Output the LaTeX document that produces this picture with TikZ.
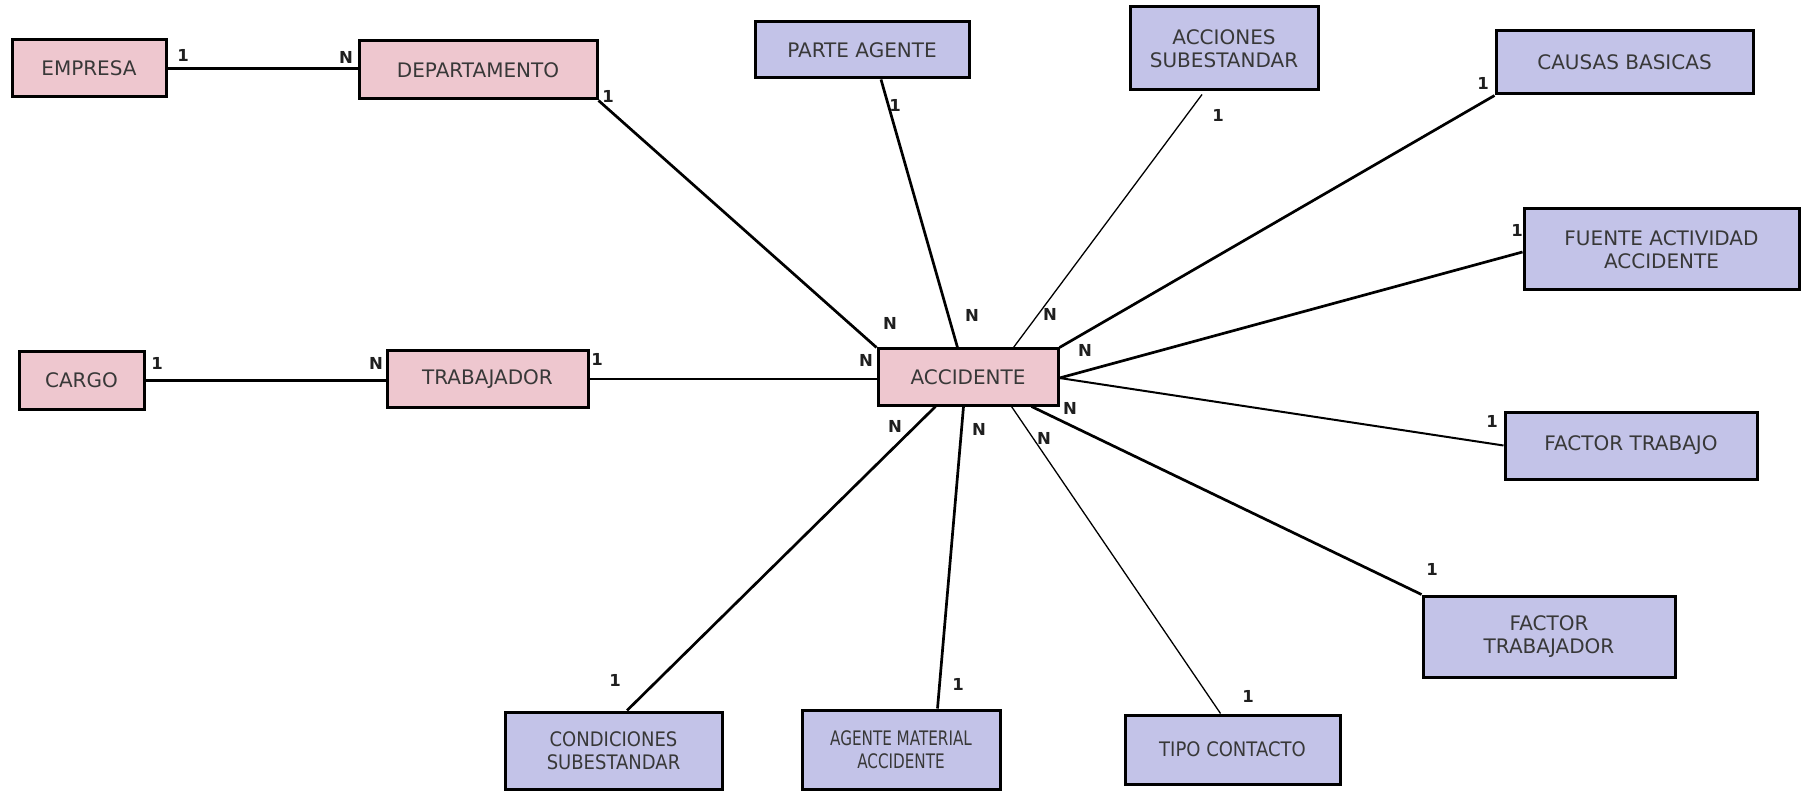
\documentclass[tikz,border=0pt]{standalone}
\usepackage{fontspec}
\setmainfont{DejaVu Sans}
\newfontfamily\estrecha[FakeStretch=0.9]{DejaVu Sans}
\newfontfamily\muyestrecha[FakeStretch=0.76]{DejaVu Sans}

\definecolor{rosa}{RGB}{238,199,207}
\definecolor{lila}{RGB}{195,195,232}

\tikzset{
    caja/.style={draw=black, line width=3pt, inner sep=0pt, align=center,
        text=black!78, font=\fontsize{20}{23}\selectfont},
    entidad/.style={caja, fill=rosa},
    tabla/.style={caja, fill=lila},
    card/.style={inner sep=0pt, text=black!88, font=\bfseries\fontsize{16.5}{17}\selectfont},
    rel/.style={line width=2.7pt},
    relmedia/.style={line width=2pt},
    relfina/.style={line width=1.3pt}
}

\begin{document}
\begin{tikzpicture}[x=1pt,y=-1pt]
        % Fondo
        \fill[white] (0,0) rectangle (1804,791);
        \useasboundingbox (0,0) rectangle (1804,791);

        % Entidades principales
        \node[entidad, minimum width=154pt, minimum height=57pt] (emp) at (89,68.5) {EMPRESA};
        \node[entidad, minimum width=238pt, minimum height=58pt] (dep) at (478,70) {DEPARTAMENTO};
        \node[entidad, minimum width=125pt, minimum height=57pt] (cargo) at (81.5,380.5) {CARGO};
        \node[entidad, minimum width=201pt, minimum height=56pt] (trab) at (487.5,379) {TRABAJADOR};
        \node[entidad, minimum width=180pt, minimum height=56pt] (acc) at (968,377) {ACCIDENTE};

        % Tablas de clasificacion
        \node[tabla, minimum width=214pt, minimum height=56pt] (pa) at (862,50) {PARTE AGENTE};
        \node[tabla, minimum width=188pt, minimum height=83pt] (accs) at (1224,48.5) {ACCIONES\\SUBESTANDAR};
        \node[tabla, minimum width=257pt, minimum height=63pt] (cb) at (1624.5,62.5) {CAUSAS BASICAS};
        \node[tabla, minimum width=275pt, minimum height=81pt] (fa) at (1661.5,249.5) {FUENTE ACTIVIDAD\\ACCIDENTE};
        \node[tabla, minimum width=252pt, minimum height=67pt] (ft) at (1631,445.5) {FACTOR TRABAJO};
        \node[tabla, minimum width=252pt, minimum height=81pt] (ftr) at (1549,636.5) {FACTOR\\TRABAJADOR};
        \node[tabla, minimum width=215pt, minimum height=69pt, font=\estrecha\fontsize{20}{23}\selectfont] (tc) at (1232.5,749.5) {TIPO CONTACTO};
        \node[tabla, minimum width=198pt, minimum height=79pt, font=\muyestrecha\fontsize{20}{23}\selectfont] (am) at (901,749.5) {AGENTE MATERIAL\\ACCIDENTE};
        \node[tabla, minimum width=217pt, minimum height=77pt, font=\estrecha\fontsize{20}{23}\selectfont] (cs) at (613.5,750.5) {CONDICIONES\\SUBESTANDAR};

        % Relaciones
        \draw[rel] (emp.east) -- (emp.east -| dep.west);
        \draw[rel] (dep.south east) -- (acc.north west);
        \draw[rel] (cargo.east) -- (cargo.east -| trab.west);
        \draw[relmedia] (trab.east) -- (trab.east -| acc.west);
        \draw[rel] ([xshift=19pt]pa.south) -- ([xshift=81pt]acc.north west);
        \draw[relfina] ([xshift=-22pt,yshift=-3pt]accs.south) -- ([xshift=137pt]acc.north west);
        \draw[rel] (cb.south west) -- (acc.north east);
        \draw[rel] ([yshift=-2.5pt]fa.west) -- ([yshift=-1pt]acc.east);
        \draw[relmedia] (ft.west) -- ([yshift=-1pt]acc.east);
        \draw[rel] (ftr.north west) -- ([xshift=-28pt]acc.south east);
        \draw[relfina] ([xshift=-12pt]tc.north) -- ([xshift=135pt]acc.south west);
        \draw[rel] ([xshift=36.5pt]am.north) -- ([xshift=87pt]acc.south west);
        \draw[rel] ([xshift=13.5pt]cs.north) -- ([xshift=59pt]acc.south west);

        % Cardinalidades
        \node[card] (c1) at (183,55) {1};
        \node[card] (c2) at (346,57) {N};
        \node[card] (c3) at (608,96) {1};
        \node[card] (c4) at (890,323) {N};
        \node[card] (c5) at (157,363) {1};
        \node[card] (c6) at (376,363) {N};
        \node[card] (c7) at (597,359) {1};
        \node[card] (c8) at (866,360) {N};
        \node[card] (c9) at (895,105) {1};
        \node[card] (c10) at (972,315) {N};
        \node[card] (c11) at (1218,115) {1};
        \node[card] (c12) at (1050,314) {N};
        \node[card] (c13) at (1483,83) {1};
        \node[card] (c14) at (1085,350) {N};
        \node[card] (c15) at (1517,230) {1};
        \node[card] (c16) at (1492,421) {1};
        \node[card] (c17) at (1070,408) {N};
        \node[card] (c18) at (1432,569) {1};
        \node[card] (c19) at (1248,696) {1};
        \node[card] (c20) at (1044,438) {N};
        \node[card] (c21) at (958,684) {1};
        \node[card] (c22) at (979,429) {N};
        \node[card] (c23) at (615,680) {1};
        \node[card] (c24) at (895,426) {N};
    \end{tikzpicture}
\end{document}
